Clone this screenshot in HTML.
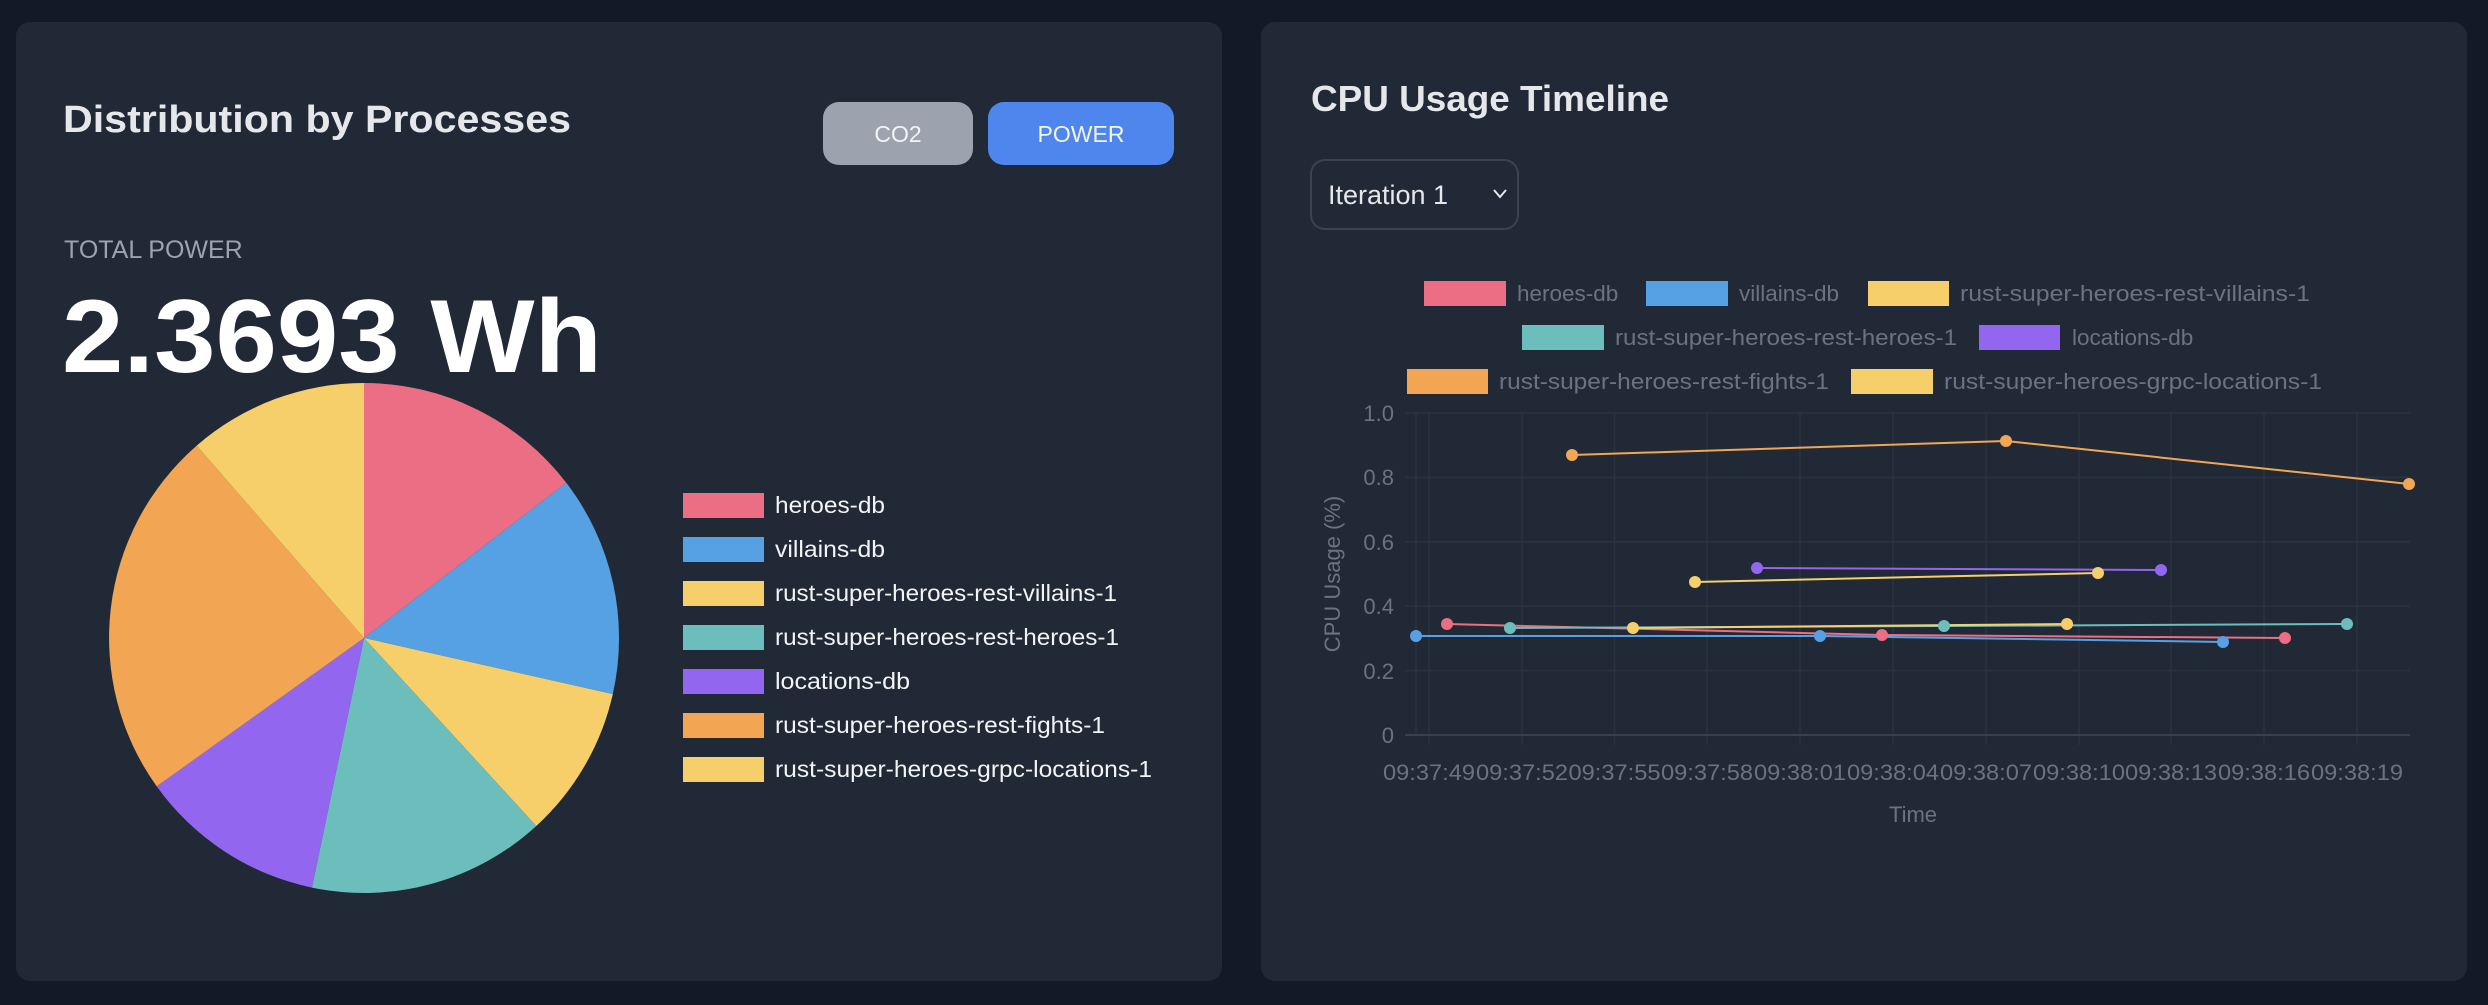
<!DOCTYPE html>
<html><head><meta charset="utf-8"><style>
html,body{margin:0;padding:0;background:#131926;}
body{width:2488px;height:1000px;overflow:hidden;font-family:"Liberation Sans",sans-serif;}
</style></head><body>
<svg width="2488" height="1000" viewBox="0 0 2488 1000" xmlns="http://www.w3.org/2000/svg" font-family="Liberation Sans, sans-serif">
<rect width="2488" height="1000" fill="#131926"/>
<rect x="16" y="22" width="1206" height="959" rx="14" fill="#212836"/>
<rect x="1261" y="22" width="1206" height="959" rx="14" fill="#212836"/>

<!-- left panel -->
<text x="63" y="132" font-size="38" font-weight="bold" fill="#e5e7eb" textLength="508" lengthAdjust="spacingAndGlyphs">Distribution by Processes</text>
<rect x="823" y="102" width="150" height="63" rx="16" fill="#9ca3af"/>
<text x="898" y="142" font-size="23" fill="#f3f4f6" text-anchor="middle">CO2</text>
<rect x="988" y="102" width="186" height="63" rx="16" fill="#4f86ed"/>
<text x="1081" y="142" font-size="23" fill="#f3f4f6" text-anchor="middle">POWER</text>
<text x="64" y="258" font-size="25" fill="#9ca3af">TOTAL POWER</text>
<text x="62" y="372" font-size="104" font-weight="bold" fill="#ffffff" textLength="540" lengthAdjust="spacingAndGlyphs">2.3693 Wh</text>

<g>
<path d="M364 638 L364 383 A255 255 0 0 1 566.3 482.8 Z" fill="#eb6e84"/>
<path d="M364 638 L566.3 482.8 A255 255 0 0 1 612.8 694.1 Z" fill="#56a0e4"/>
<path d="M364 638 L612.8 694.1 A255 255 0 0 1 536.3 826 Z" fill="#f6cf6a"/>
<path d="M364 638 L536.3 826 A255 255 0 0 1 311.9 887.6 Z" fill="#6cbebd"/>
<path d="M364 638 L311.9 887.6 A255 255 0 0 1 156.7 786.4 Z" fill="#9366f0"/>
<path d="M364 638 L156.7 786.4 A255 255 0 0 1 196.7 445.6 Z" fill="#f2a553"/>
<path d="M364 638 L196.7 445.6 A255 255 0 0 1 364 383 Z" fill="#f6cf6a"/>
</g>

<g font-size="23.5" fill="#f3f4f6">
<rect x="683" y="493" width="81" height="25" fill="#eb6e84"/><text x="775" y="513" textLength="110" lengthAdjust="spacingAndGlyphs">heroes-db</text>
<rect x="683" y="537" width="81" height="25" fill="#56a0e4"/><text x="775" y="557" textLength="110" lengthAdjust="spacingAndGlyphs">villains-db</text>
<rect x="683" y="581" width="81" height="25" fill="#f6cf6a"/><text x="775" y="601" textLength="342" lengthAdjust="spacingAndGlyphs">rust-super-heroes-rest-villains-1</text>
<rect x="683" y="625" width="81" height="25" fill="#6cbebd"/><text x="775" y="645" textLength="344" lengthAdjust="spacingAndGlyphs">rust-super-heroes-rest-heroes-1</text>
<rect x="683" y="669" width="81" height="25" fill="#9366f0"/><text x="775" y="689" textLength="135" lengthAdjust="spacingAndGlyphs">locations-db</text>
<rect x="683" y="713" width="81" height="25" fill="#f2a553"/><text x="775" y="733" textLength="330" lengthAdjust="spacingAndGlyphs">rust-super-heroes-rest-fights-1</text>
<rect x="683" y="757" width="81" height="25" fill="#f6cf6a"/><text x="775" y="777" textLength="377" lengthAdjust="spacingAndGlyphs">rust-super-heroes-grpc-locations-1</text>
</g>

<!-- right panel -->
<text x="1311" y="111" font-size="36" font-weight="bold" fill="#e5e7eb" textLength="358" lengthAdjust="spacingAndGlyphs">CPU Usage Timeline</text>
<rect x="1311" y="160" width="207" height="69" rx="14" fill="none" stroke="#3b4250" stroke-width="2"/>
<text x="1328" y="204" font-size="27" fill="#e5e7eb">Iteration 1</text>
<path d="M1494 190 L1500 197 L1506 190" fill="none" stroke="#e5e7eb" stroke-width="2"/>

<g font-size="22.5" fill="#6b7280">
<rect x="1424" y="281" width="82" height="25" fill="#eb6e84"/><text x="1517" y="301">heroes-db</text>
<rect x="1646" y="281" width="82" height="25" fill="#56a0e4"/><text x="1739" y="301">villains-db</text>
<rect x="1868" y="281" width="81" height="25" fill="#f6cf6a"/><text x="1960" y="301" textLength="350" lengthAdjust="spacingAndGlyphs">rust-super-heroes-rest-villains-1</text>
<rect x="1522" y="325" width="82" height="25" fill="#6cbebd"/><text x="1615" y="345" textLength="342" lengthAdjust="spacingAndGlyphs">rust-super-heroes-rest-heroes-1</text>
<rect x="1979" y="325" width="81" height="25" fill="#9366f0"/><text x="2072" y="345">locations-db</text>
<rect x="1407" y="369" width="81" height="25" fill="#f2a553"/><text x="1499" y="389" textLength="330" lengthAdjust="spacingAndGlyphs">rust-super-heroes-rest-fights-1</text>
<rect x="1851" y="369" width="82" height="25" fill="#f6cf6a"/><text x="1944" y="389" textLength="378" lengthAdjust="spacingAndGlyphs">rust-super-heroes-grpc-locations-1</text>
</g>

<g stroke="#2b3240" stroke-width="1.5">
<line x1="1405" y1="413" x2="2410" y2="413"/>
<line x1="1405" y1="477.4" x2="2410" y2="477.4"/>
<line x1="1405" y1="541.8" x2="2410" y2="541.8"/>
<line x1="1405" y1="606.2" x2="2410" y2="606.2"/>
<line x1="1405" y1="670.6" x2="2410" y2="670.6"/>
<line x1="1429" y1="413" x2="1429" y2="745"/><line x1="1522" y1="413" x2="1522" y2="745"/>
<line x1="1614.5" y1="413" x2="1614.5" y2="745"/><line x1="1707" y1="413" x2="1707" y2="745"/>
<line x1="1800" y1="413" x2="1800" y2="745"/><line x1="1893" y1="413" x2="1893" y2="745"/>
<line x1="1986" y1="413" x2="1986" y2="745"/><line x1="2079" y1="413" x2="2079" y2="745"/>
<line x1="2171" y1="413" x2="2171" y2="745"/><line x1="2264" y1="413" x2="2264" y2="745"/>
<line x1="2357" y1="413" x2="2357" y2="745"/>
<line x1="1416" y1="413" x2="1416" y2="735"/>
</g>
<line x1="1405" y1="735" x2="2410" y2="735" stroke="#3a414e" stroke-width="2"/>

<g font-size="22" fill="#6b7280" text-anchor="end">
<text x="1394" y="421">1.0</text><text x="1394" y="485">0.8</text><text x="1394" y="550">0.6</text>
<text x="1394" y="614">0.4</text><text x="1394" y="679">0.2</text><text x="1394" y="743">0</text>
</g>
<g font-size="22" fill="#6b7280" text-anchor="middle">
<text x="1429" y="780" textLength="92" lengthAdjust="spacingAndGlyphs">09:37:49</text>
<text x="1522" y="780" textLength="92" lengthAdjust="spacingAndGlyphs">09:37:52</text>
<text x="1614.5" y="780" textLength="92" lengthAdjust="spacingAndGlyphs">09:37:55</text>
<text x="1707" y="780" textLength="92" lengthAdjust="spacingAndGlyphs">09:37:58</text>
<text x="1800" y="780" textLength="92" lengthAdjust="spacingAndGlyphs">09:38:01</text>
<text x="1893" y="780" textLength="92" lengthAdjust="spacingAndGlyphs">09:38:04</text>
<text x="1986" y="780" textLength="92" lengthAdjust="spacingAndGlyphs">09:38:07</text>
<text x="2079" y="780" textLength="92" lengthAdjust="spacingAndGlyphs">09:38:10</text>
<text x="2171" y="780" textLength="92" lengthAdjust="spacingAndGlyphs">09:38:13</text>
<text x="2264" y="780" textLength="92" lengthAdjust="spacingAndGlyphs">09:38:16</text>
<text x="2357" y="780" textLength="92" lengthAdjust="spacingAndGlyphs">09:38:19</text>
<text x="1913" y="822">Time</text>
</g>
<text x="0" y="0" font-size="22" fill="#6b7280" text-anchor="middle" transform="translate(1340 574) rotate(-90)">CPU Usage (%)</text>

<g stroke-width="2" fill="none">
<polyline points="1572,455 2006,441 2409,484" stroke="#f2a553"/>
<polyline points="1757,568 2161,570" stroke="#9366f0"/>
<polyline points="1695,582 2098,573" stroke="#f6cf6a"/>
<polyline points="1447,624 1882,635 2285,638" stroke="#eb6e84"/>
<polyline points="1416,636 1820,636 2223,642" stroke="#56a0e4"/>
<polyline points="1510,628 1944,626 2347,624" stroke="#6cbebd"/>
<polyline points="1633,628 2067,624" stroke="#f6cf6a"/>
</g>
<g>
<g fill="#f2a553"><circle cx="1572" cy="455" r="6"/><circle cx="2006" cy="441" r="6"/><circle cx="2409" cy="484" r="6"/></g>
<g fill="#9366f0"><circle cx="1757" cy="568" r="6"/><circle cx="2161" cy="570" r="6"/></g>
<g fill="#f6cf6a"><circle cx="1695" cy="582" r="6"/><circle cx="2098" cy="573" r="6"/></g>
<g fill="#eb6e84"><circle cx="1447" cy="624" r="6"/><circle cx="1882" cy="635" r="6"/><circle cx="2285" cy="638" r="6"/></g>
<g fill="#56a0e4"><circle cx="1416" cy="636" r="6"/><circle cx="1820" cy="636" r="6"/><circle cx="2223" cy="642" r="6"/></g>
<g fill="#6cbebd"><circle cx="1510" cy="628" r="6"/><circle cx="1944" cy="626" r="6"/><circle cx="2347" cy="624" r="6"/></g>
<g fill="#f6cf6a"><circle cx="1633" cy="628" r="6"/><circle cx="2067" cy="624" r="6"/></g>
</g>
</svg>
</body></html>
